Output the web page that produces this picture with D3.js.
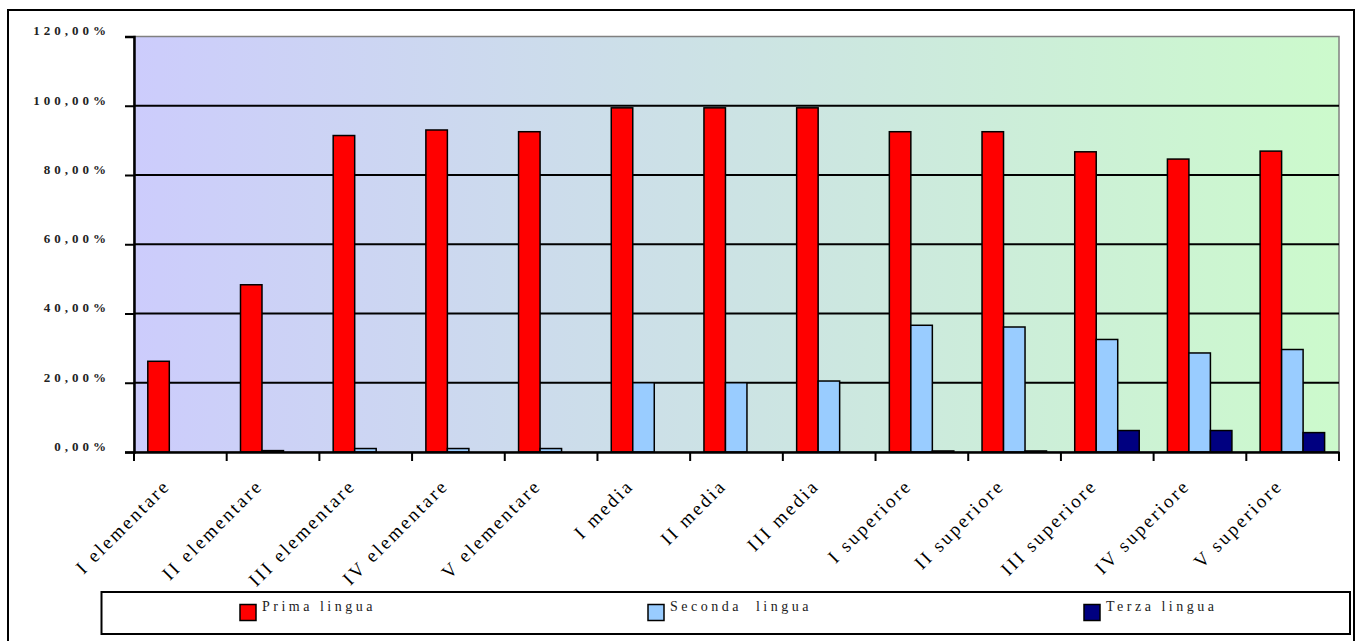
<!DOCTYPE html>
<html>
<head>
<meta charset="utf-8">
<script src="https://cdn.jsdelivr.net/npm/d3@7"></script>
<style>
  body { margin: 0; background: #fff; }
  text { font-family: "Liberation Serif", serif; }
</style>
</head>
<body>
<div id="chart-area"></div>
<script>
var categories = ["I elementare", "II elementare", "III elementare", "IV elementare", "V elementare",
    "I media", "II media", "III media",
    "I superiore", "II superiore", "III superiore", "IV superiore", "V superiore"];
var seriesNames = ["Prima lingua", "Seconda  lingua", "Terza lingua"];
var seriesColors = ["#FF0000", "#99CCFF", "#000080"];
var prima = [26.2, 48.3, 91.4, 93.0, 92.5, 99.4, 99.4, 99.4, 92.5, 92.5, 86.7, 84.6, 86.9];
var seconda = [0, 0.4, 1.0, 1.0, 1.0, 20.0, 20.0, 20.5, 36.6, 36.1, 32.5, 28.6, 29.6];
var terza = [0, 0, 0, 0, 0, 0, 0, 0, 0.3, 0.3, 6.2, 6.2, 5.6];
var yTicks = [0, 20, 40, 60, 80, 100, 120];

var W = 1356, H = 641;
var plot = { left: 134, right: 1339, top: 36.5, bottom: 452 };

var svg = d3.select("#chart-area")
    .append("svg")
    .attr("width", W)
    .attr("height", H);

var defs = svg.append("defs");
var grad = defs.append("linearGradient")
    .attr("id", "bg-grad")
    .attr("x1", "0%").attr("y1", "0%")
    .attr("x2", "100%").attr("y2", "0%");
grad.append("stop").attr("offset", "0%").attr("stop-color", "#CCCCFC");
grad.append("stop").attr("offset", "100%").attr("stop-color", "#CCFACC");

// outer frame
svg.append("rect")
    .attr("x", 8).attr("y", 10)
    .attr("width", 1346).attr("height", 660)
    .attr("fill", "none")
    .attr("stroke", "#000")
    .attr("stroke-width", 2);

var x0 = d3.scaleBand()
    .domain(categories)
    .range([plot.left, plot.right])
    .padding(0);

var x1 = d3.scaleBand()
    .domain(seriesNames)
    .range([13.8, 13.8 + 64.5]);

var y = d3.scaleLinear()
    .domain([0, 120])
    .range([plot.bottom, plot.top]);

// plot background
svg.append("rect")
    .attr("x", plot.left).attr("y", plot.top)
    .attr("width", plot.right - plot.left)
    .attr("height", plot.bottom - plot.top)
    .attr("fill", "url(#bg-grad)")
    .attr("stroke", "#808080")
    .attr("stroke-width", 1.5);

// grid lines
svg.append("g")
    .selectAll("line")
    .data(yTicks.filter(d => d > 0 && d < 120))
    .enter()
    .append("line")
    .attr("x1", plot.left).attr("x2", plot.right)
    .attr("y1", d => y(d)).attr("y2", d => y(d))
    .attr("stroke", "#000")
    .attr("stroke-width", 2);

// bars
var rows = categories.map((c, i) => ({ cat: c, vals: [prima[i], seconda[i], terza[i]] }));

var groups = svg.append("g")
    .selectAll("g")
    .data(rows)
    .enter()
    .append("g")
    .attr("transform", d => `translate(${x0(d.cat)},0)`);

groups.selectAll("rect")
    .data(d => d.vals.map((v, k) => ({ s: seriesNames[k], v: v, k: k })).filter(e => e.v > 0))
    .enter()
    .append("rect")
    .attr("x", d => x1(d.s))
    .attr("y", d => y(d.v))
    .attr("width", x1.bandwidth())
    .attr("height", d => plot.bottom - y(d.v))
    .attr("fill", d => seriesColors[d.k])
    .attr("stroke", "#000")
    .attr("stroke-width", 1.5);

// y axis
var yAxis = svg.append("g")
    .attr("transform", `translate(${plot.left},0)`)
    .call(d3.axisLeft(y).tickValues(yTicks).tickSize(9).tickPadding(15)
        .tickFormat(d => d3.format(".2f")(d).replace(".", ",") + "%"));
yAxis.select(".domain").attr("stroke", "#000").attr("stroke-width", 2.5);
yAxis.selectAll(".tick line").attr("stroke", "#000").attr("stroke-width", 2);
yAxis.selectAll(".tick text")
    .attr("dy", "-0.12em")
    .attr("font-family", "Liberation Serif, serif")
    .attr("font-size", "13px")
    .attr("font-weight", "bold")
    .attr("letter-spacing", "4px")
    .attr("fill", "#222");

// x axis
var xAxis = svg.append("g")
    .attr("transform", `translate(0,${plot.bottom})`)
    .call(d3.axisBottom(x0).tickSize(0).tickFormat(""));
xAxis.select(".domain").attr("stroke", "#000").attr("stroke-width", 2.5);

svg.append("g")
    .selectAll("line")
    .data(categories.concat(["end"]))
    .enter()
    .append("line")
    .attr("x1", (d, i) => plot.left + i * x0.step())
    .attr("x2", (d, i) => plot.left + i * x0.step())
    .attr("y1", plot.bottom)
    .attr("y2", plot.bottom + 9)
    .attr("stroke", "#000")
    .attr("stroke-width", 2);

svg.append("g")
    .selectAll("text")
    .data(categories)
    .enter()
    .append("text")
    .attr("transform", d => `translate(${x0(d) + x0.bandwidth() / 2 - 9},${plot.bottom + 35}) rotate(-45)`)
    .attr("text-anchor", "end")
    .attr("font-size", "19px")
    .attr("letter-spacing", "2.5px")
    .attr("fill", "#000")
    .text(d => d);

// legend
var legend = svg.append("g");
legend.append("rect")
    .attr("x", 101.5).attr("y", 592)
    .attr("width", 1248.5).attr("height", 42)
    .attr("fill", "#fff")
    .attr("stroke", "#000")
    .attr("stroke-width", 2);

var legendX = [240, 648, 1084];
var items = legend.selectAll("g.item")
    .data(seriesNames)
    .enter()
    .append("g")
    .attr("class", "item")
    .attr("transform", (d, i) => `translate(${legendX[i]},604.5)`);
items.append("rect")
    .attr("width", 16).attr("height", 16)
    .attr("fill", (d, i) => seriesColors[i])
    .attr("stroke", "#000")
    .attr("stroke-width", 1.5);
items.append("text")
    .attr("x", 22).attr("y", 6.5)
    .attr("font-size", "14px")
    .attr("letter-spacing", "3.5px")
    .attr("fill", "#222")
    .style("white-space", "pre")
    .text(d => d);
</script>
</body>
</html>
